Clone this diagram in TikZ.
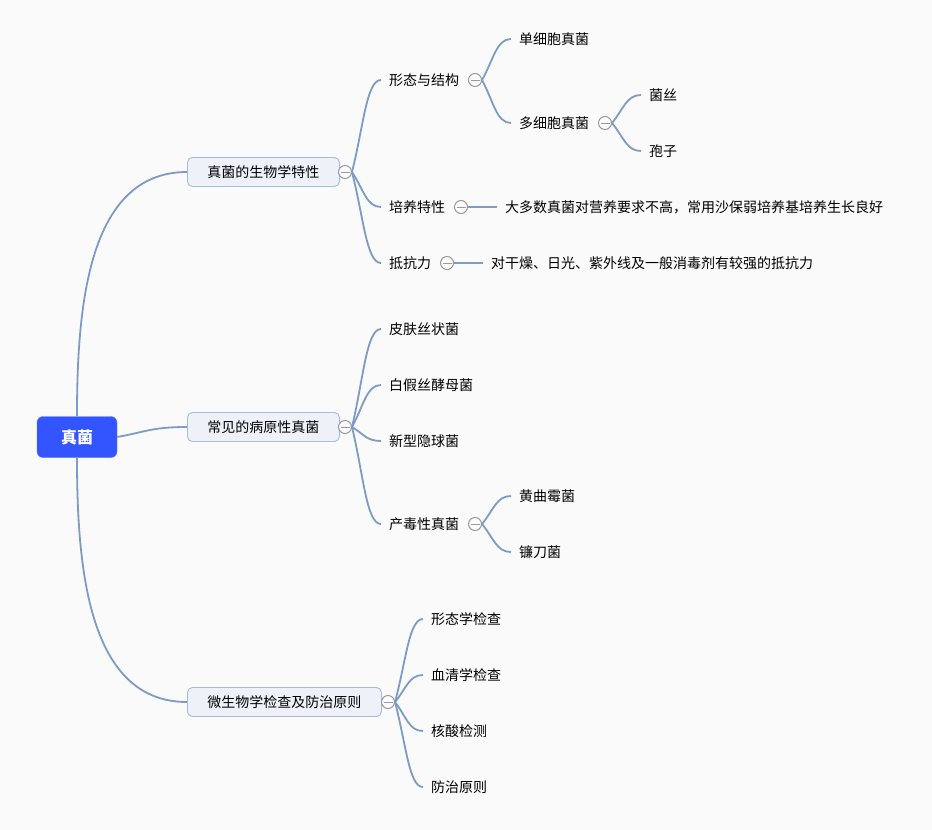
\documentclass[tikz,border=0pt]{standalone}
\usepackage{fontspec}
\newfontfamily\cjk{Noto Sans CJK SC}
\usetikzlibrary{calc}
\definecolor{bg}{HTML}{FAFAFB}
\definecolor{rootblue}{HTML}{3355FF}
\definecolor{lvfill}{HTML}{EEF2F8}
\definecolor{lvdraw}{HTML}{A6BCDA}
\definecolor{conncol}{HTML}{7D9BC4}
\definecolor{foldcol}{HTML}{9A9A9A}
\newcommand\brc[2]{\draw[conn] let \p1=(#1), \p2=(#2) in (\p1) .. controls ({\x1+0.4*(\x2-\x1)},{\y1+0.5*(\y2-\y1)}) and ({\x1+0.5*(\x2-\x1)},\y2) .. (\p2);}
\newcommand\rootbr[2]{\draw[conn] let \p1=(#1), \p2=(#2) in (\p1) .. controls (\x1,{\y1+0.45*(\y2-\y1)}) and ({\x1+0.1*(\x2-\x1)},\y2) .. (\p2);}
\tikzset{
  conn/.style={draw=conncol, line width=1.8pt},
  rootbox/.style={fill=rootblue, draw=rootblue!80, rounded corners=6pt, minimum width=80pt, minimum height=41pt, inner sep=0pt, text=white, font=\cjk\bfseries\fontsize{16}{19}\selectfont},
  lvbox/.style={fill=lvfill, draw=lvdraw, line width=0.9pt, rounded corners=5pt, minimum height=29pt, inner sep=0pt, anchor=west, font=\cjk\fontsize{14}{16}\selectfont},
  leaf/.style={anchor=west, inner xsep=8pt, inner ysep=2pt, font=\cjk\fontsize{14}{16}\selectfont},
  fold/.style={circle, draw=foldcol, fill=bg!60!white, line width=1pt, minimum size=13pt, inner sep=0pt,
    path picture={\draw[foldcol, line width=1pt] ([xshift=2pt]path picture bounding box.west) -- ([xshift=-2pt]path picture bounding box.east);}}
}
\begin{document}
\begin{tikzpicture}[x=1pt,y=-1pt]
\path[fill=bg] (0,0) rectangle (932,830);
% root
\node[rootbox] (root) at (77,437) {真菌};
% level 1
\node[lvbox, minimum width=152pt] (a) at (187,172) {真菌的生物学特性};
\node[lvbox, minimum width=152pt] (b) at (187,427) {常见的病原性真菌};
\node[lvbox, minimum width=194pt] (c) at (187,702) {微生物学检查及防治原则};
\node[fold] (fa) at (345,172) {};
\node[fold] (fb) at (345,427) {};
\node[fold] (fc) at (388,702) {};
% group a
\node[leaf] (a1) at (381,80) {形态与结构};
\node[leaf] (a2) at (381,207) {培养特性};
\node[leaf] (a3) at (381,263) {抵抗力};
\node[fold] (fa1) at (475,80) {};
\node[fold] (fa2) at (461,207) {};
\node[fold] (fa3) at (447,263) {};
\node[leaf] (a2d) at (497,207) {大多数真菌对营养要求不高，常用沙保弱培养基培养生长良好};
\node[leaf] (a3d) at (483,263) {对干燥、日光、紫外线及一般消毒剂有较强的抵抗力};
\node[leaf] (a11) at (511,39) {单细胞真菌};
\node[leaf] (a12) at (511,123) {多细胞真菌};
\node[fold] (fa12) at (605,123) {};
\node[leaf] (a121) at (641,95) {菌丝};
\node[leaf] (a122) at (641,151) {孢子};
% group b
\node[leaf] (b1) at (381,329) {皮肤丝状菌};
\node[leaf] (b2) at (381,385) {白假丝酵母菌};
\node[leaf] (b3) at (381,441) {新型隐球菌};
\node[leaf] (b4) at (381,524) {产毒性真菌};
\node[fold] (fb4) at (475,524) {};
\node[leaf] (b41) at (511,496) {黄曲霉菌};
\node[leaf] (b42) at (511,552) {镰刀菌};
% group c
\node[leaf] (c1) at (423,619) {形态学检查};
\node[leaf] (c2) at (423,675) {血清学检查};
\node[leaf] (c3) at (423,731) {核酸检测};
\node[leaf] (c4) at (423,787) {防治原则};
% connectors
\rootbr{root.north}{a.west}
\brc{root.east}{b.west}
\rootbr{root.south}{c.west}
\brc{fa.east}{a1.west}
\brc{fa.east}{a2.west}
\brc{fa.east}{a3.west}
\draw[conn] (fa2.east) -- (a2d.west);
\draw[conn] (fa3.east) -- (a3d.west);
\brc{fa1.east}{a11.west}
\brc{fa1.east}{a12.west}
\brc{fa12.east}{a121.west}
\brc{fa12.east}{a122.west}
\brc{fb.east}{b1.west}
\brc{fb.east}{b2.west}
\brc{fb.east}{b3.west}
\brc{fb.east}{b4.west}
\brc{fb4.east}{b41.west}
\brc{fb4.east}{b42.west}
\brc{fc.east}{c1.west}
\brc{fc.east}{c2.west}
\brc{fc.east}{c3.west}
\brc{fc.east}{c4.west}
\end{tikzpicture}
\end{document}
